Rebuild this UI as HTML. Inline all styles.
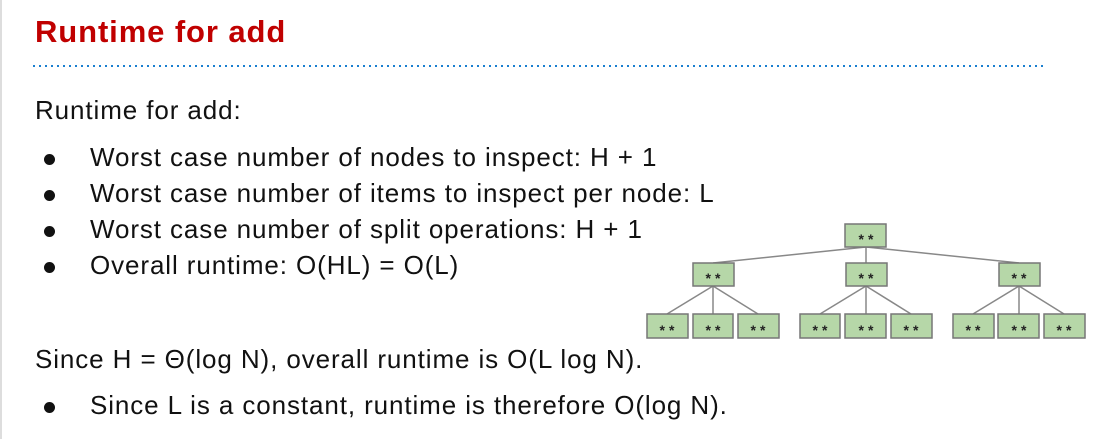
<!DOCTYPE html>
<html><head><style>
body{margin:0;width:1101px;height:439px;background:#fff;position:relative;overflow:hidden;font-family:"Liberation Sans","DejaVu Sans",sans-serif;}
.t{position:absolute;white-space:nowrap;font-size:26px;letter-spacing:0.9px;color:#111;}
.b{position:absolute;left:44px;width:11px;height:11px;border-radius:50%;background:#111;}
</style></head><body>
<div style="position:absolute;left:0;top:0;width:2px;height:439px;background:#ddd"></div>
<div class="t" style="left:35px;top:14px;font-size:31px;letter-spacing:0.9px;font-weight:bold;color:#c00000">Runtime for add</div>
<svg width="1101" height="439" style="position:absolute;left:0;top:0">
<line x1="33" y1="66" x2="1046" y2="66" stroke="#1a7fd0" stroke-width="2" stroke-dasharray="2 4"/>
<g stroke="#888" stroke-width="1.5" fill="none">
<line x1="866" y1="247" x2="713" y2="263"/><line x1="866" y1="247" x2="866" y2="263"/><line x1="866" y1="247" x2="1019" y2="263"/>
<line x1="713" y1="286" x2="667" y2="314"/><line x1="713" y1="286" x2="713" y2="314"/><line x1="713" y1="286" x2="758" y2="314"/>
<line x1="866" y1="286" x2="820" y2="314"/><line x1="866" y1="286" x2="866" y2="314"/><line x1="866" y1="286" x2="911" y2="314"/>
<line x1="1019" y1="286" x2="973" y2="314"/><line x1="1019" y1="286" x2="1019" y2="314"/><line x1="1019" y1="286" x2="1064" y2="314"/>
</g>
<g fill="#b6d7a8" stroke="#777" stroke-width="1.5">
<rect x="845" y="224" width="41" height="23"/>
<rect x="693" y="263" width="41" height="23"/><rect x="846" y="263" width="41" height="23"/><rect x="999" y="263" width="41" height="23"/>
<rect x="647" y="314" width="41" height="24"/><rect x="693" y="314" width="40" height="24"/><rect x="738" y="314" width="41" height="24"/>
<rect x="800" y="314" width="40" height="24"/><rect x="845" y="314" width="41" height="24"/><rect x="891" y="314" width="41" height="24"/>
<rect x="953" y="314" width="41" height="24"/><rect x="998" y="314" width="41" height="24"/><rect x="1044" y="314" width="41" height="24"/>
</g>
<g font-size="14" font-weight="bold" fill="#222" text-anchor="middle" letter-spacing="4" font-family="Liberation Sans,sans-serif">
<text x="868" y="244">**</text>
<text x="715" y="283">**</text><text x="868" y="283">**</text><text x="1021" y="283">**</text>
<text x="669" y="335">**</text><text x="715" y="335">**</text><text x="760" y="335">**</text>
<text x="822" y="335">**</text><text x="868" y="335">**</text><text x="913" y="335">**</text>
<text x="975" y="335">**</text><text x="1021" y="335">**</text><text x="1066" y="335">**</text>
</g>
</svg>
<div class="t" style="left:35px;top:95px">Runtime for add:</div>
<div class="b" style="top:154px"></div><div class="t" style="left:90px;top:142px">Worst case number of nodes to inspect: H + 1</div>
<div class="b" style="top:190px"></div><div class="t" style="left:90px;top:178px">Worst case number of items to inspect per node: L</div>
<div class="b" style="top:226px"></div><div class="t" style="left:90px;top:214px">Worst case number of split operations: H + 1</div>
<div class="b" style="top:262px"></div><div class="t" style="left:90px;top:250px">Overall runtime: O(HL) = O(L)</div>
<div class="t" style="left:35px;top:344px">Since H = Θ(log N), overall runtime is O(L log N).</div>
<div class="b" style="top:402px"></div><div class="t" style="left:90px;top:390px">Since L is a constant, runtime is therefore O(log N).</div>
</body></html>
